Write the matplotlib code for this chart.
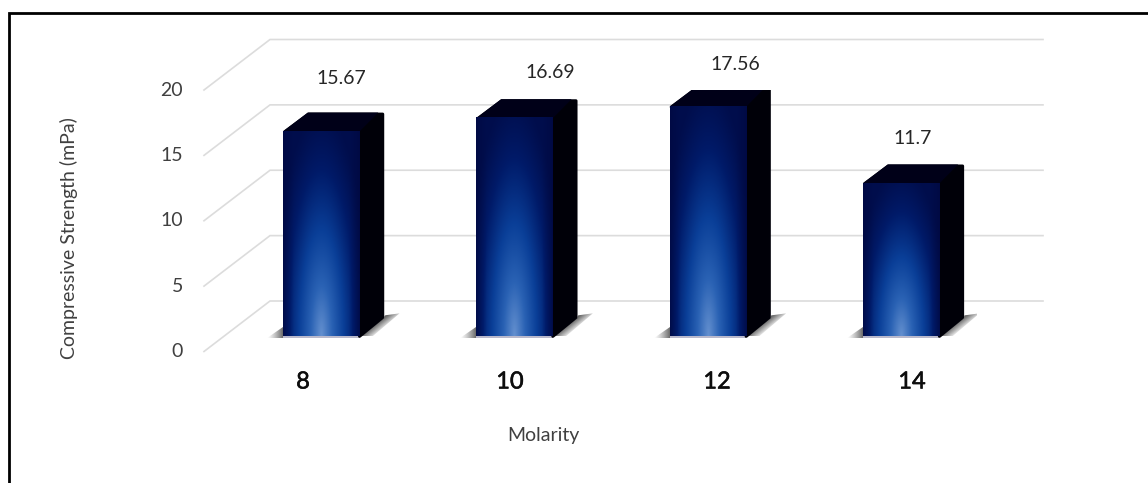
import numpy as np
import matplotlib
matplotlib.use("Agg")
import matplotlib.pyplot as plt
import matplotlib.patheffects as pe
from matplotlib.colors import LinearSegmentedColormap
from matplotlib.patches import Polygon

plt.rcParams['font.family'] = ['Lato', 'DejaVu Sans']

W, H = 1148, 483
molarity = ['8', '10', '12', '14']
strength = [15.67, 16.69, 17.56, 11.7]
y_ticks = [0, 5, 10, 15, 20]

fig = plt.figure(figsize=(W / 100, H / 100), dpi=100)
canvas = fig.add_axes([0, 0, 1, 1])
canvas.set_xlim(0, W)
canvas.set_ylim(H, 0)
canvas.axis('off')

# Axes for the front plane of the 3D box: x in category slots, y in MPa.
X0, X1 = 204, 977          # front plane, pixel extent
Y0, Y20 = 351.5, 90.0      # pixel rows of 0 and 20
SLOT = 193.3
FIRST_CENTRE = 301.5
XLIM = ((X0 - FIRST_CENTRE) / SLOT, (X1 - FIRST_CENTRE) / SLOT)
PX_Y = 20 / (Y0 - Y20)     # value units per pixel row
ax = fig.add_axes([X0 / W, 1 - Y0 / H, (X1 - X0) / W, (Y0 - Y20) / H])
ax.axis('off')
ax.patch.set_alpha(0)

DEPTH_X = 66 / SLOT        # full floor depth in category units
DEPTH_Y = 50.5 * PX_Y      # full floor depth in value units
BAR_W = 76.5 / SLOT
D_FRONT, D_BACK = 0.30, 0.675


def project(x, v, d):
    """Shear a point at depth d (0 front, 1 back) onto the drawing plane."""
    return x + d * DEPTH_X, v + d * DEPTH_Y


GRID = '#dcdcdc'
for v in y_ticks:
    xa, ya = project(XLIM[0], v, 0)
    xb, yb = project(XLIM[0], v, 1)
    xc, yc = project(XLIM[1], v, 1)
    ax.plot([xa, xb, xc], [ya, yb, yc], color=GRID, lw=1.2, zorder=1,
            clip_on=False, solid_joinstyle='miter')
    ax.text(XLIM[0] - 21 / SLOT, v, str(v), ha='right', va='center',
            fontsize=14, color='#404040', clip_on=False)

# Front-face shading: navy at the head, blue below, a pale glow at the foot.
face_cmap = LinearSegmentedColormap.from_list(
    'face', ['#000840', '#001a68', '#0a3f98', '#2a62b4', '#6490cf'])
yy, xx = np.mgrid[0:1:240j, -1:1:120j]
foot = 1 - yy
glow = np.clip(1 - np.sqrt((xx / 1.25) ** 2 + (foot / 1.1) ** 2), 0, 1)
side_fade = np.clip((1 - np.abs(xx)) / 0.28, 0, 1) ** 0.7
face = (0.08 + 0.92 * glow ** 1.25) * (0.3 + 0.7 * side_fade)

# Floor shadows as alpha ramps, in pixels around the foot of a column.
sy, sx = np.mgrid[23:0:60j, 0:40:100j]
ramp_right = np.clip(1 - (sx - 1.25 * sy) / 16, 0, 1) * (sx - 1.25 * sy >= -1)
shadow_right = np.ones(sx.shape + (4,))
shadow_right[..., :3] = 0.28
shadow_right[..., 3] = 0.9 * ramp_right
shadow_left = np.ones((10, 80, 4))
shadow_left[..., :3] = 0.28
shadow_left[..., 3] = np.linspace(0, 0.9, 80) ** 1.3

for i, value in enumerate(strength):
    left, right = i - BAR_W / 2, i + BAR_W / 2
    fl = project(left, 0, D_FRONT)
    fr = project(right, 0, D_FRONT)
    br = project(right, 0, D_BACK)
    ftl = project(left, value, D_FRONT)
    ftr = project(right, value, D_FRONT)
    btl = project(left, value, D_BACK)
    btr = project(right, value, D_BACK)

    # shadow to the left of the foot
    reach = 16 / SLOT
    im = ax.imshow(shadow_left, extent=(fl[0] - reach, fl[0] + 0.005,
                                        fl[1] - 1.5 * PX_Y, fl[1] + 9 * PX_Y),
                   aspect='auto', interpolation='bilinear', zorder=2)
    im.set_clip_path(Polygon([(fl[0] - reach, fl[1] - 1.5 * PX_Y), (fl[0], fl[1] - 1.5 * PX_Y),
                              (fl[0], fl[1] + 9 * PX_Y)],
                             closed=True, transform=ax.transData))

    # shadow to the right, across the floor behind the column
    im = ax.imshow(shadow_right, extent=(fr[0], fr[0] + 40 / SLOT, fr[1], fr[1] + 23 * PX_Y),
                   aspect='auto', interpolation='bilinear', zorder=2)
    im.set_clip_path(Polygon([fr, (fr[0] + 13 / SLOT, fr[1]),
                              (fr[0] + 40 / SLOT, fr[1] + 23 * PX_Y),
                              (br[0], br[1] + 2 * PX_Y), br],
                             closed=True, transform=ax.transData))

    # pale rim under the front face
    ax.fill_between([fl[0], fr[0]], fl[1] - 1.6 * PX_Y, fl[1], color='#b9b9cc', lw=0, zorder=2)

    # top and side form one dark silhouette with softened corners
    inset_x, inset_y = 1.6 / SLOT, 1.6 * PX_Y
    ax.add_patch(Polygon([(fr[0], fr[1]), (br[0] - inset_x, br[1]),
                          (btr[0] - inset_x, btr[1] - inset_y),
                          (btl[0] + inset_x * 0.4, btl[1] - inset_y),
                          (ftl[0] + inset_x, ftl[1] - inset_y * 0.2), ftr],
                         closed=True, fc='#000008', ec='#000008', lw=2.2,
                         joinstyle='round', zorder=3))
    ax.add_patch(Polygon([ftl, btl, (btr[0] - 6 / SLOT, btr[1]), ftr],
                         closed=True, fc='#000018', ec='none', zorder=3))

    # front face
    ax.imshow(face, cmap=face_cmap, vmin=0, vmax=1, origin='upper',
              extent=(fl[0], fr[0], fl[1], ftl[1]), aspect='auto',
              interpolation='bilinear', zorder=4)

ax.set_xlim(*XLIM)
ax.set_ylim(0, 20)

# Category and value labels are set by hand above and below the columns.
cat_pos = [(303, 382), (510, 382), (717, 382), (912, 382)]
for name, (px, py) in zip(molarity, cat_pos):
    canvas.text(px, py, name, ha='center', va='center', fontsize=17, color='#0d0d0d',
                path_effects=[pe.withStroke(linewidth=0.4, foreground='#0d0d0d')])
val_pos = [(341, 79), (550, 73), (735, 64), (913, 138)]
for value, (px, py) in zip(strength, val_pos):
    canvas.text(px, py, f'{value:g}', ha='center', va='center', fontsize=14, color='#262626')

canvas.text(69, 238, 'Compressive Strength (mPa)', rotation=90, ha='center', va='center',
            fontsize=14, color='#404040')
canvas.text(543, 435, 'Molarity', ha='center', va='center', fontsize=14, color='#404040')

# Frame: rules along the top and the left, running off the edge of the figure.
canvas.plot([9, 9, W], [H, 13, 13], color='#000000', lw=2, solid_joinstyle='miter', zorder=0)

fig.savefig('out.png', dpi=100)
